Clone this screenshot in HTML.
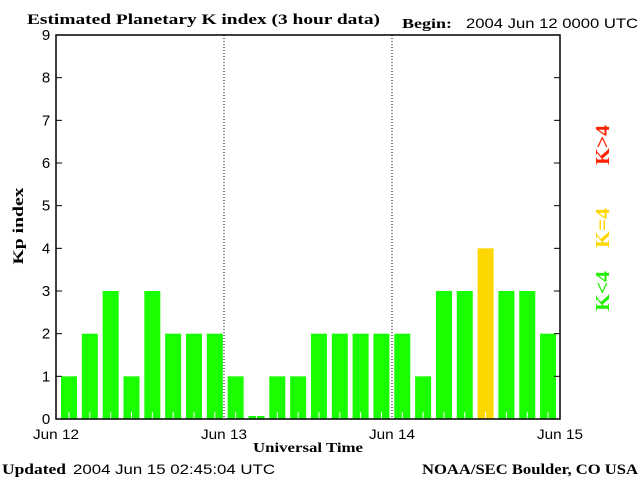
<!DOCTYPE html>
<html><head><meta charset="utf-8"><style>
body{margin:0;background:#fff;width:640px;height:480px;overflow:hidden}
text{font-family:"Liberation Sans",sans-serif}
.s{font-family:"Liberation Serif",serif;font-weight:bold}
</style></head><body>
<svg id="c" width="640" height="480" xmlns="http://www.w3.org/2000/svg">
<text class="s" x="27" y="24" font-size="15" textLength="353" lengthAdjust="spacingAndGlyphs">Estimated Planetary K index (3 hour data)</text>
<text class="s" x="402" y="28" font-size="14" textLength="50" lengthAdjust="spacingAndGlyphs">Begin:</text>
<text x="466" y="28" font-size="14" textLength="172" lengthAdjust="spacingAndGlyphs">2004 Jun 12 0000 UTC</text>
<g id="plot"></g>
<text class="s" x="23" y="226" font-size="15" text-anchor="middle" textLength="77" lengthAdjust="spacingAndGlyphs" transform="rotate(-90 23 226)">Kp index</text>
<text class="s" x="253" y="452" font-size="14" textLength="110" lengthAdjust="spacingAndGlyphs">Universal Time</text>
<text class="s" x="2" y="474" font-size="15" textLength="64" lengthAdjust="spacingAndGlyphs">Updated</text>
<text x="73" y="474" font-size="14" textLength="202" lengthAdjust="spacingAndGlyphs">2004 Jun 15 02:45:04 UTC</text>
<text class="s" x="422" y="474" font-size="15" textLength="216" lengthAdjust="spacingAndGlyphs">NOAA/SEC Boulder, CO USA</text>
<text class="s" x="609" y="145" font-size="20" fill="#ff2200" text-anchor="middle" textLength="40" lengthAdjust="spacingAndGlyphs" transform="rotate(-90 609 145)">K&gt;4</text>
<text class="s" x="609" y="228" font-size="20" fill="#ffd700" text-anchor="middle" textLength="40" lengthAdjust="spacingAndGlyphs" transform="rotate(-90 609 228)">K=4</text>
<text class="s" x="609" y="291" font-size="20" fill="#22ee00" text-anchor="middle" textLength="40" lengthAdjust="spacingAndGlyphs" transform="rotate(-90 609 291)">K&lt;4</text>
</svg>
<script>
const kpValues=[1,2,3,1,3,2,2,2, 1,0,1,1,2,2,2,2, 2,1,3,3,4,3,3,2];
const yTicks=[0,1,2,3,4,5,6,7,8,9];
const dayLabels=["Jun 12","Jun 13","Jun 14","Jun 15"];
const NS="http://www.w3.org/2000/svg";
const L=56,R=560,T=35,B=419;
const yS=v=>B-(v/9)*(B-T);
const xS=i=>L+i*(R-L)/24;
const g=document.getElementById('plot');
function mk(t,a){const e=document.createElementNS(NS,t);for(const k in a)e.setAttribute(k,a[k]);g.appendChild(e);return e;}
kpValues.forEach((v,i)=>{
  const x=xS(i)+5-i*0.17, y=v===0?B-3:yS(v);
  const col=v>4?'#ff2200':(v===4?'#ffd700':'#1aff00');
  const b=mk('rect',{x:x,y:y,width:16,height:B-y,fill:col});
  
  
  const t=mk('line',{x1:x+8,x2:x+8,y1:B-7,y2:B,stroke:'#fff','stroke-width':1});
  
  
});
[1,2].forEach(d=>{
  const l=mk('line',{x1:xS(d*8),x2:xS(d*8),y1:T,y2:B,stroke:'#000','stroke-dasharray':'1,2'});
  
  
});
const f=mk('rect',{x:L,y:T,width:R-L,height:B-T,fill:'none',stroke:'#000','stroke-width':1.5});


yTicks.forEach(v=>{
  const y=yS(v);
  mk('line',{x1:L,x2:L+6,y1:y,y2:y,stroke:'#000'});
  mk('line',{x1:R-6,x2:R,y1:y,y2:y,stroke:'#000'});
  const t=mk('text',{x:46,y:y+5,'font-size':15,'text-anchor':'middle'});
  t.textContent=v;
  
  
});
dayLabels.forEach((s,d)=>{
  const t=mk('text',{x:xS(d*8),y:439,'font-size':14,'text-anchor':'middle',textLength:46,lengthAdjust:'spacingAndGlyphs'});
  t.textContent=s;
  
  
});
</script>
</body></html>
